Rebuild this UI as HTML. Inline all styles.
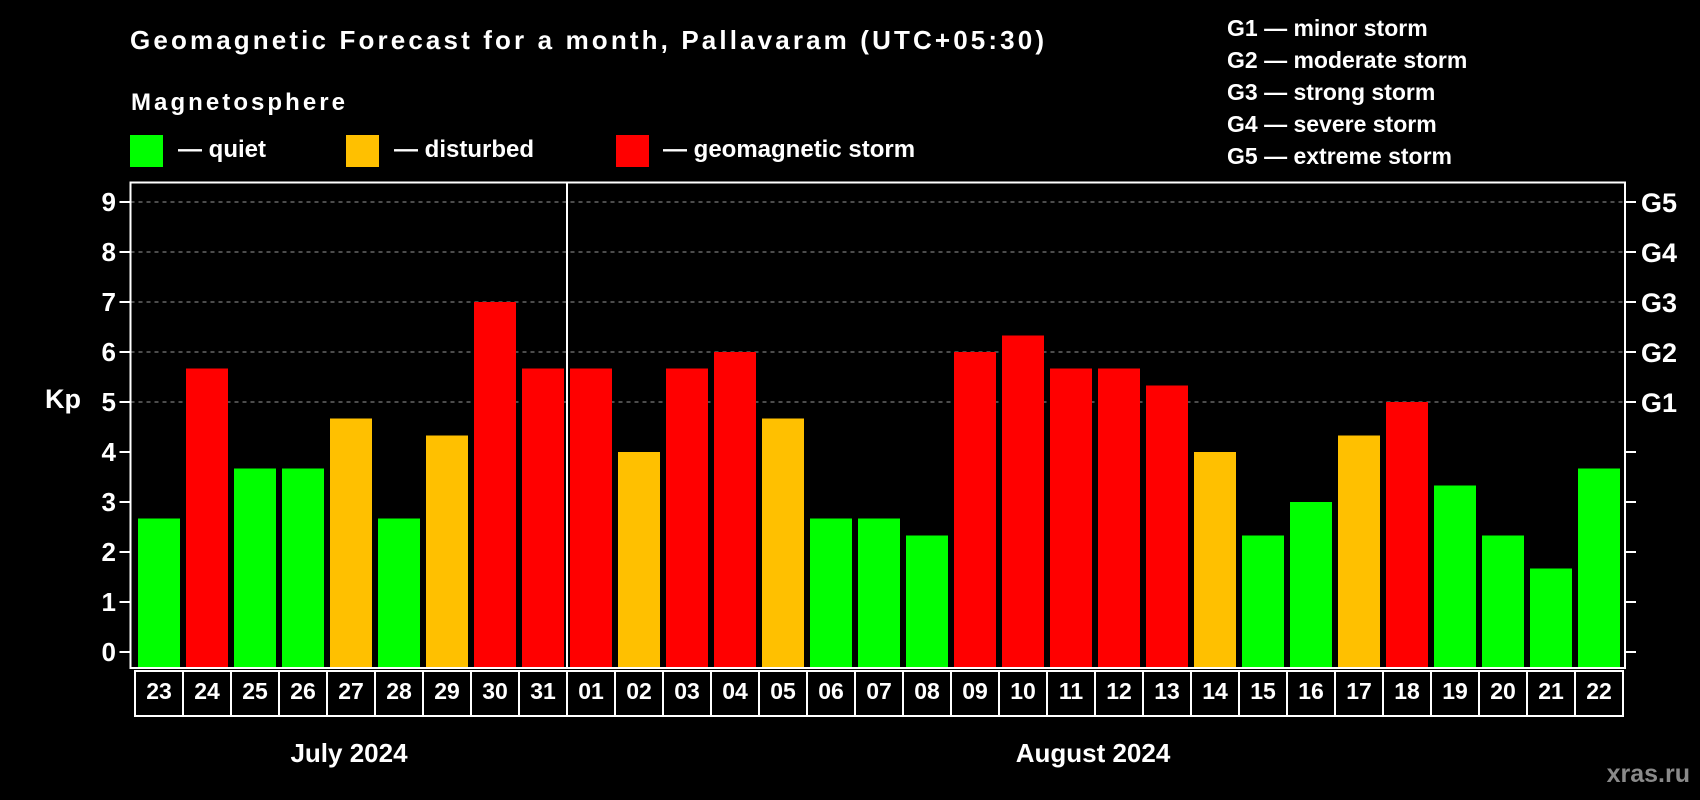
<!DOCTYPE html>
<html><head><meta charset="utf-8"><style>
html,body{margin:0;padding:0;background:#000;}
svg{display:block;font-family:"Liberation Sans",Arial,sans-serif;font-weight:bold;}
</style></head><body>
<svg id="chart" width="1700" height="800" viewBox="0 0 1700 800" xmlns="http://www.w3.org/2000/svg">
<rect width="1700" height="800" fill="#000"/>
<text x="130" y="49" fill="#fff" font-size="26" textLength="914">Geomagnetic Forecast for a month, Pallavaram (UTC+05:30)</text>
<text x="131" y="110" fill="#fff" font-size="24" textLength="214">Magnetosphere</text>
<g><rect x="130" y="135" width="33" height="32" fill="#00ff00"/><text x="178" y="157" fill="#fff" font-size="24">— quiet</text></g>
<g><rect x="346" y="135" width="33" height="32" fill="#ffc000"/><text x="394" y="157" fill="#fff" font-size="24">— disturbed</text></g>
<g><rect x="616" y="135" width="33" height="32" fill="#ff0000"/><text x="663" y="157" fill="#fff" font-size="24">— geomagnetic storm</text></g>
<g fill="#fff" font-size="23">
<text x="1227" y="36">G1 — minor storm</text>
<text x="1227" y="68">G2 — moderate storm</text>
<text x="1227" y="100">G3 — strong storm</text>
<text x="1227" y="132">G4 — severe storm</text>
<text x="1227" y="164">G5 — extreme storm</text>
</g>
<text x="63" y="408" fill="#fff" font-size="27" text-anchor="middle">Kp</text>
<g id="grid"></g><g id="bars"></g><g id="axes"></g><g id="dates"></g>
<text x="349" y="762" fill="#fff" font-size="26" text-anchor="middle">July 2024</text>
<text x="1093" y="762" fill="#fff" font-size="26" text-anchor="middle">August 2024</text>
<text x="1690" y="782" fill="#8a8a8a" font-size="25" text-anchor="end">xras.ru</text>
</svg>
<script>
const days = ["23","24","25","26","27","28","29","30","31","01","02","03","04","05","06","07","08","09","10","11","12","13","14","15","16","17","18","19","20","21","22"];
const kpValues = [2.67,5.67,3.67,3.67,4.67,2.67,4.33,7,5.67,5.67,4,5.67,6,4.67,2.67,2.67,2.33,6,6.33,5.67,5.67,5.33,4,2.33,3,4.33,5,3.33,2.33,1.67,3.67];
const yTicks = [0,1,2,3,4,5,6,7,8,9];
const gLabels = ["","","","","","G1","G2","G3","G4","G5"];
const NS="http://www.w3.org/2000/svg";
const L=130.5,R=1625,T=182.5,B=668,x0=138,step=48,bw=42;
function y(v){return 652-v*50;}
function x(i){return x0+i*step;}
function mk(tag,attrs,parent){const e=document.createElementNS(NS,tag);for(const k in attrs)e.setAttribute(k,attrs[k]);parent.appendChild(e);return e;}
const grid=document.getElementById('grid'),bars=document.getElementById('bars'),axes=document.getElementById('axes'),dates=document.getElementById('dates');
yTicks.forEach(t=>{
  if(t>=5){const g=mk('line',{x1:L,x2:R,y1:y(t),y2:y(t),stroke:'#999','stroke-dasharray':'4,4','stroke-width':1},grid);
  
  }
  const tk=mk('line',{x1:L-11,x2:L,y1:y(t),y2:y(t),stroke:'#fff','stroke-width':2},axes);
  
  
  const tk2=mk('line',{x1:R,x2:R+11,y1:y(t),y2:y(t),stroke:'#fff','stroke-width':2},axes);
  
  
  const lb=mk('text',{x:116,y:y(t)+9,fill:'#fff','font-size':26,'text-anchor':'end'},axes);
  lb.textContent=t;
  
  
  if(gLabels[t]){const gl=mk('text',{x:1641,y:y(t)+10,fill:'#fff','font-size':27},axes);
  gl.textContent=gLabels[t];
  
  }
});
kpValues.forEach((v,i)=>{
  const c=v<4?'#00ff00':(v<5?'#ffc000':'#ff0000');
  const b=mk('rect',{x:x(i),y:y(v),width:bw,height:B-y(v),fill:c},bars);
  
  
});
const box=mk('rect',{x:L,y:T,width:R-L,height:B-T,fill:'none',stroke:'#fff','stroke-width':2},axes);


const sep=mk('line',{x1:x(9)-3,x2:x(9)-3,y1:T,y2:B,stroke:'#fff','stroke-width':2},axes);


const dtop=671,dbot=716;
const db=mk('rect',{x:x(0)-3,y:dtop,width:x(days.length)-x(0),height:dbot-dtop,fill:'none',stroke:'#fff','stroke-width':2},dates);


days.forEach((d,i)=>{
  if(i>0){const l=mk('line',{x1:x(i)-3,x2:x(i)-3,y1:dtop,y2:dbot,stroke:'#fff','stroke-width':2},dates);
  
  }
  const t=mk('text',{x:x(i)+bw/2,y:699,fill:'#fff','font-size':23,'text-anchor':'middle'},dates);
  t.textContent=d;
  
  
});
</script>
</body></html>
